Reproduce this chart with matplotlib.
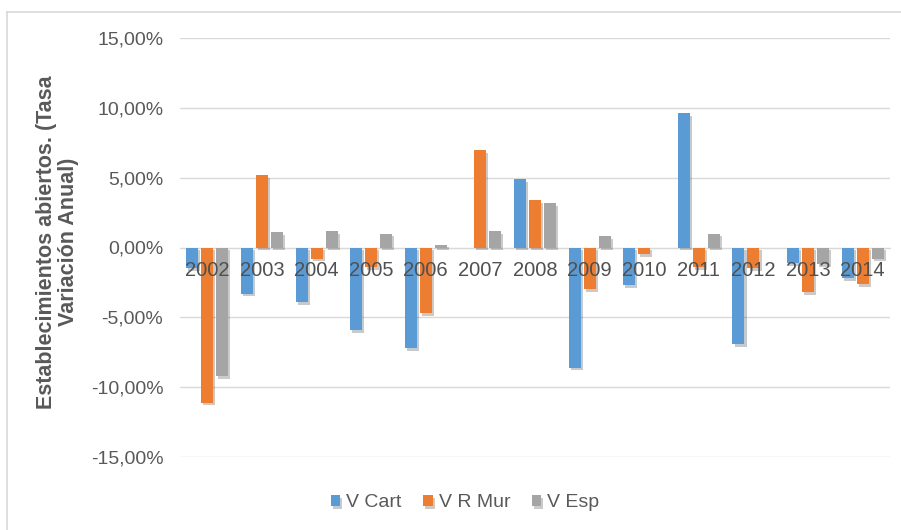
import numpy as np
import matplotlib
matplotlib.use('Agg')
import matplotlib.pyplot as plt
import matplotlib.patheffects as pe
from matplotlib.lines import Line2D
from matplotlib.ticker import FuncFormatter

years = ['2002', '2003', '2004', '2005', '2006', '2007', '2008',
         '2009', '2010', '2011', '2012', '2013', '2014']
v_cart = [-1.5, -3.3, -3.9, -5.9, -7.2, 0.0, 4.9, -8.6, -2.7, 9.6, -6.9, -1.1, -2.2]
v_mur = [-11.1, 5.2, -0.8, -1.4, -4.7, 7.0, 3.4, -3.0, -0.5, -1.4, -1.5, -3.2, -2.6]
v_esp = [-9.2, 1.1, 1.2, 1.0, 0.2, 1.2, 3.2, 0.8, 0.0, 1.0, 0.0, -1.2, -0.8]
series_names = ['V Cart', 'V R Mur', 'V Esp']

colors = ['#5B9BD5', '#ED7D31', '#A5A5A5']
text_col = '#595959'
grid_col = '#D9D9D9'

plt.rcParams['font.family'] = ['Liberation Sans', 'DejaVu Sans']

fig = plt.figure(figsize=(9.01, 5.30), dpi=100)
ax = fig.add_axes([180 / 901, 1 - 457 / 530, 710 / 901, 419 / 530])

x = np.arange(len(years))
step = 0.275
width = 0.22
shadow = [pe.SimplePatchShadow(offset=(1.5, -2), alpha=0.25), pe.Normal()]
for k, vals in enumerate([v_cart, v_mur, v_esp]):
    bars = ax.bar(x + (k - 1) * step, vals, width, color=colors[k],
                  label=series_names[k], zorder=2)
    for b in bars:
        b.set_path_effects(shadow)

ax.set_xlim(-0.5, len(years) - 0.5)
ax.set_ylim(-15, 15)
ax.set_yticks(np.arange(-15, 16, 5))
ax.yaxis.set_major_formatter(FuncFormatter(lambda v, p: ('%.2f%%' % v).replace('.', ',')))
ax.grid(axis='y', color=grid_col, linewidth=1, zorder=0)
ax.set_axisbelow(True)

for s in ['top', 'right', 'left']:
    ax.spines[s].set_visible(False)
ax.spines['bottom'].set_position(('data', 0))
ax.spines['bottom'].set_color(grid_col)
ax.spines['bottom'].set_zorder(1)

# year labels drawn on top of the bars, just under the zero line
ax.set_xticks(x)
ax.set_xticklabels([])
ax.tick_params(axis='x', length=0)
for xi, yr in zip(x, years):
    ax.annotate(yr, (xi, 0), xytext=(0, -10), textcoords='offset points',
                ha='center', va='top', fontsize=14.5, color='#505050', zorder=5)

ax.tick_params(axis='y', length=0, pad=12, labelsize=14, labelcolor=text_col)

fig.text(0.064, 0.543, 'Establecimientos abiertos. (Tasa\nVariación Anual)',
         rotation=90, ha='center', va='center', fontsize=15.5,
         fontweight='bold', color=text_col, linespacing=1.05)

leg = ax.legend(loc='center', bbox_to_anchor=(0.516, 0.051), bbox_transform=fig.transFigure,
                ncol=3, frameon=False, fontsize=14, labelcolor=text_col,
                handlelength=0.5, handleheight=0.5, handletextpad=0.3, columnspacing=1.1)

# chart border (top and left edges visible)
fig.add_artist(Line2D([7 / 901, 1.0], [1 - 12 / 530, 1 - 12 / 530], color=grid_col, lw=1.2))
fig.add_artist(Line2D([7 / 901, 7 / 901], [0.0, 1 - 12 / 530], color=grid_col, lw=1.2))

plt.savefig('out.png', dpi=100)
